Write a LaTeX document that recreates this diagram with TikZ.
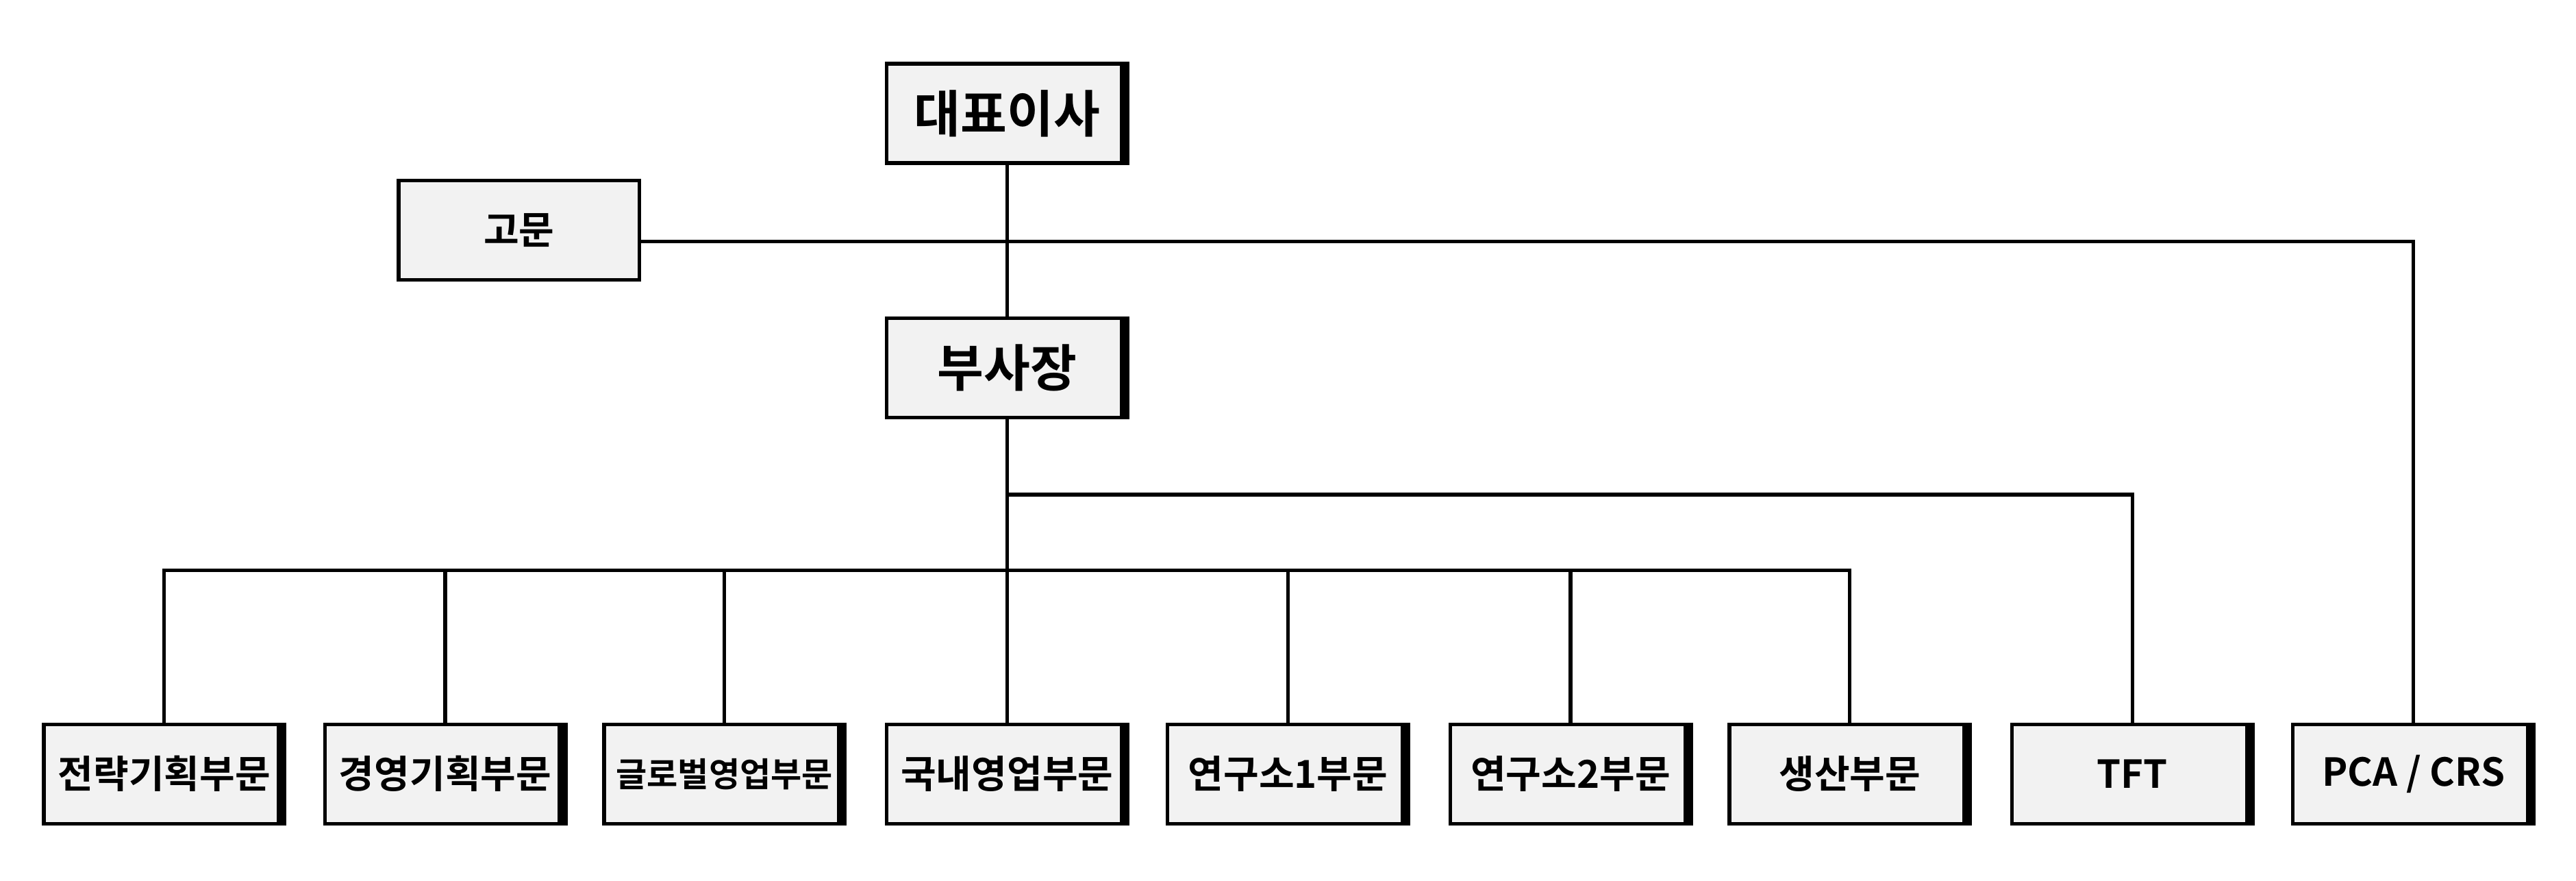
\documentclass[tikz,border=0pt]{standalone}
\usepackage{fontspec}
\setmainfont{Noto Sans CJK KR}
\newfontfamily\krbold{Noto Sans CJK KR Bold}
\begin{document}
\begin{tikzpicture}[x=0.024cm,y=-0.024cm,
orgbox/.style={draw,line width=1.5pt,fill=black!5,minimum width=3.52cm,minimum height=1.45cm,inner sep=0pt,font=\krbold\fontsize{16}{19}\selectfont},
topbox/.style={orgbox,font=\krbold\fontsize{21}{24}\selectfont},
link/.style={line width=1.5pt}]
\useasboundingbox (0,0) rectangle (1568,536);
\node[topbox](ceo) at (613,69) {대표이사};
\node[orgbox](adv) at (316,140) {고문};
\node[topbox](vp) at (613,224) {부사장};
\foreach \name/\txt/\x in {d1/전략기획부문/100,d2/경영기획부문/271,d3/{\fontsize{14}{17}\selectfont 글로벌영업부문}/441,d4/국내영업부문/613,d5/연구소1부문/784,d6/연구소2부문/956,d7/생산부문/1126,tft/TFT/1298,pca/{PCA {/} CRS}/1469}
	\node[orgbox](\name) at (\x,471) {\txt};
%thick right edges
\foreach \name in {ceo,vp,d1,d2,d3,d4,d5,d6,d7,tft,pca}
	\draw[line width=4pt] ([xshift=-2pt,yshift=-0.75pt]\name.north east) -- ([xshift=-2pt,yshift=0.75pt]\name.south east);
%connectors
\draw[link] (ceo) -- (vp);
\draw[link] ([yshift=-0.17cm]adv.east) -| (pca.north);
\draw[link] (vp.south) -- (d4.north);
\coordinate (tfturn) at (613,301);
\draw[link] (tfturn) -| (tft.north);
\coordinate (bus) at (613,347);
\foreach \name in {d1,d2,d3,d5,d6,d7}
	\draw[link] (bus) -| (\name.north);
\end{tikzpicture}
\end{document}
